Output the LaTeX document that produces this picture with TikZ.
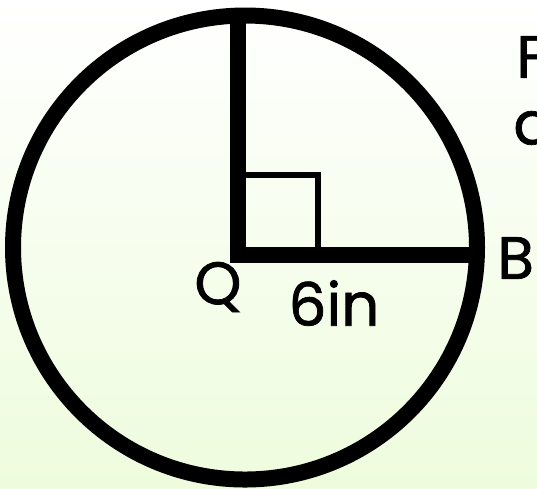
\documentclass[tikz,border=0pt]{standalone}
\usepackage{fontspec}
\setmainfont{Poppins}
\newfontfamily\lblfont{Poppins}[FakeBold=1.2]

\tikzset{
  rim/.style={draw=black, line width=0.32cm},
  radius line/.style={draw=black, line width=0.32cm, miter limit=10},
  right mark/.style={draw=black, line width=0.12cm},
  lbl/.style={inner sep=0pt, font=\lblfont\fontsize{34}{40}\selectfont},
}
\colorlet{bgtop}{white}
\definecolor{bgbot}{RGB}{238,252,221}

\begin{document}
\begin{tikzpicture}[x=0.02cm, y=-0.02cm]
    % ======== BACKGROUND ========
    \useasboundingbox (0,0) rectangle (537,488);
    \shade[top color=bgtop, bottom color=bgbot] (0,0) rectangle (537,488);

    % ======== CIRCLE AND RADII ========
    \coordinate (O) at (245,247.5);
    \coordinate (Q) at (238,255);
    \coordinate (top) at (238,15);
    \coordinate (B) at (477,255);
    \draw[rim] (O) circle[radius=232];
    \draw[right mark] (Q) rectangle ++(80,-80);
    \draw[radius line] (top) -- (Q) -- (B);

    % ======== LABELS ========
    \node[lbl] (qlbl) at (218,287) {Q};
    \node[lbl] (len) at (334,303) {6in};
    \node[lbl, anchor=west] (blbl) at (497,258) {B};
    % text cut off at the right edge
    \node[lbl, anchor=west] (line1) at (516,57) {F};
    \node[lbl, anchor=west] (line2) at (513,128) {a};
\end{tikzpicture}
\end{document}
